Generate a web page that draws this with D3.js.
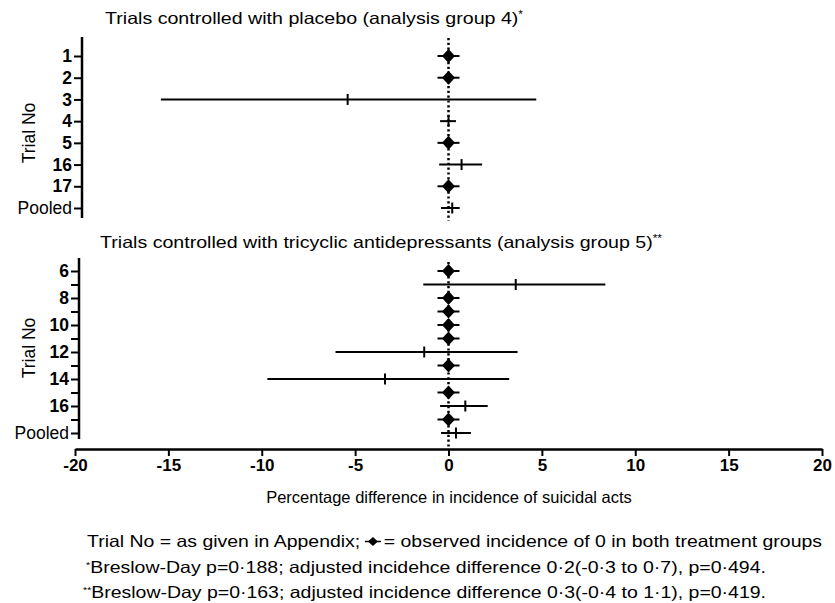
<!DOCTYPE html>
<html>
<head>
<meta charset="utf-8">
<script src="https://cdn.jsdelivr.net/npm/d3@7"></script>
<style>
  body { margin: 0; background: #fff; }
  svg { display: block; font-family: "Liberation Sans", Arial, sans-serif; }
</style>
</head>
<body>
<div id="chart"></div>
<script>
// placebo-controlled trials (analysis group 4)
const placeboTrials = ["1", "2", "3", "4", "5", "16", "17", "Pooled"];
const placeboEst = [0, 0, -5.4, 0, 0, 0.7, 0, 0.2];
const placeboLo = [null, null, -15.4, -0.45, null, -0.5, null, -0.4];
const placeboHi = [null, null, 4.7, 0.4, null, 1.8, null, 0.6];

// tricyclic-controlled trials (analysis group 5)
const tcaTrials = ["6", "7", "8", "9", "10", "11", "12", "13", "14", "15", "16", "17", "Pooled"];
const tcaEst = [0, 3.6, 0, 0, 0, 0, -1.3, 0, -3.4, 0, 0.9, 0, 0.4];
const tcaLo = [null, -1.35, null, null, null, null, -6.05, null, -9.7, null, -0.45, null, -0.4];
const tcaHi = [null, 8.4, null, null, null, null, 3.7, null, 3.25, null, 2.1, null, 1.2];
const tcaLabelled = ["6", "8", "10", "12", "14", "16", "Pooled"];

const xTicks = [-20, -15, -10, -5, 0, 5, 10, 15, 20];

const width = 835, height = 603;
const svg = d3.select("#chart").append("svg")
  .attr("width", width).attr("height", height);

const x = d3.scaleLinear().domain([-20, 20]).range([75, 822]);

const diamond = "M-6.5,0L0,-7L6.5,0L0,7Z";

function panel(trials, est, lo, hi, opts) {
  const rows = trials.map((t, i) => ({ trial: t, est: est[i], lo: lo[i], hi: hi[i] }));
  const y = d3.scalePoint().domain(trials).range(opts.rows);
  const g = svg.append("g");

  // y axis
  const ax = g.append("g")
    .attr("transform", `translate(${opts.axisX},0)`)
    .call(d3.axisLeft(y).tickSize(8).tickPadding(2)
      .tickFormat(d => opts.labelled.includes(d) ? d : ""));
  ax.select(".domain").remove();
  ax.selectAll(".tick line").attr("stroke", "#000").attr("stroke-width", 2);
  ax.selectAll(".tick text")
    .attr("fill", "#000")
    .style("font-size", "17.5px")
    .style("font-weight", d => d === "Pooled" ? "normal" : "bold");
  ax.append("line")
    .attr("y1", opts.axisY[0]).attr("y2", opts.axisY[1])
    .attr("stroke", "#000").attr("stroke-width", 2.5);

  // zero reference line
  g.append("line")
    .attr("x1", x(0)).attr("x2", x(0))
    .attr("y1", opts.dotY[0]).attr("y2", opts.dotY[1])
    .attr("stroke", "#000").attr("stroke-width", 2.5)
    .attr("stroke-dasharray", "2.2,2.6");

  // confidence intervals
  const ci = rows.filter(d => d.lo !== null);
  g.selectAll("line.ci").data(ci).join("line")
    .attr("class", "ci")
    .attr("x1", d => x(d.lo)).attr("x2", d => x(d.hi))
    .attr("y1", d => y(d.trial)).attr("y2", d => y(d.trial))
    .attr("stroke", "#000").attr("stroke-width", 2);
  g.selectAll("line.est").data(ci).join("line")
    .attr("class", "est")
    .attr("x1", d => x(d.est)).attr("x2", d => x(d.est))
    .attr("y1", d => y(d.trial) - 5.5).attr("y2", d => y(d.trial) + 5.5)
    .attr("stroke", "#000").attr("stroke-width", 2);

  // zero incidence in both groups
  const zero = rows.filter(d => d.lo === null);
  const dz = g.selectAll("g.zero").data(zero).join("g")
    .attr("class", "zero")
    .attr("transform", d => `translate(${x(d.est)},${y(d.trial)})`);
  dz.append("line").attr("x1", -11).attr("x2", 11)
    .attr("stroke", "#000").attr("stroke-width", 2);
  dz.append("path").attr("d", diamond).attr("fill", "#000");

  // y label
  svg.append("text")
    .attr("transform", `translate(35,${opts.labelY}) rotate(-90)`)
    .attr("text-anchor", "middle")
    .style("font-size", "17.5px")
    .text("Trial No");

  // panel title
  const t = svg.append("text")
    .attr("x", opts.titleX).attr("y", opts.titleY)
    .attr("textLength", opts.titleLen).attr("lengthAdjust", "spacingAndGlyphs")
    .style("font-size", "16.5px");
  t.append("tspan").text(opts.title);
  t.append("tspan").attr("dy", -6).style("font-size", "10px").text(opts.mark);
}

panel(placeboTrials, placeboEst, placeboLo, placeboHi, {
  rows: [56, 208], axisX: 82, axisY: [37, 218], dotY: [38, 221],
  labelled: placeboTrials, labelY: 133,
  title: "Trials controlled with placebo (analysis group 4)", mark: "*",
  titleX: 105, titleY: 24, titleLen: 418
});

panel(tcaTrials, tcaEst, tcaLo, tcaHi, {
  rows: [271, 433], axisX: 79, axisY: [258, 439], dotY: [262, 449],
  labelled: tcaLabelled, labelY: 348,
  title: "Trials controlled with tricyclic antidepressants (analysis group 5)", mark: "**",
  titleX: 100, titleY: 248, titleLen: 562
});

// x axis
const xa = svg.append("g")
  .attr("transform", "translate(0,449)")
  .call(d3.axisBottom(x).tickValues(xTicks).tickSize(7).tickSizeOuter(0).tickPadding(3));
xa.select(".domain").attr("stroke", "#000").attr("stroke-width", 2.5);
xa.selectAll(".tick line").attr("stroke", "#000").attr("stroke-width", 2);
xa.selectAll(".tick text")
  .attr("fill", "#000")
  .style("font-size", "17px")
  .style("font-weight", "bold")
  .text(d => d);

svg.append("text")
  .attr("x", 449).attr("y", 503)
  .attr("text-anchor", "middle")
  .style("font-size", "16.5px")
  .text("Percentage difference in incidence of suicidal acts");

// footnotes: first line laid out by measuring, so the legend glyph sits in the flow
const fnSize = 16.5;
const partA = svg.append("text")
  .attr("x", 87).attr("y", 547)
  .style("font-size", fnSize + "px")
  .text("Trial No = as given in Appendix;");
const partB = svg.append("text")
  .attr("y", 547)
  .style("font-size", fnSize + "px")
  .text("= observed incidence of 0 in both treatment groups");
const wA = partA.node().getComputedTextLength();
const wB = partB.node().getComputedTextLength();
const glyphW = 20;
const k = (822 - 87) / (wA + glyphW + wB);
partA.attr("textLength", wA * k).attr("lengthAdjust", "spacingAndGlyphs");
const gx = 87 + (wA + 4) * k + 8;
const lg = svg.append("g").attr("transform", `translate(${gx},541.5)`);
lg.append("line").attr("x1", -8).attr("x2", 8).attr("stroke", "#000").attr("stroke-width", 1.5);
lg.append("path").attr("d", "M-5,0L0,-4.5L5,0L0,4.5Z").attr("fill", "#000");
partB.attr("x", 822 - wB * k)
  .attr("textLength", wB * k).attr("lengthAdjust", "spacingAndGlyphs");

const f2 = svg.append("text")
  .attr("x", 86).attr("y", 573)
  .attr("textLength", 680).attr("lengthAdjust", "spacingAndGlyphs")
  .style("font-size", fnSize + "px");
f2.append("tspan").attr("dy", -5).style("font-size", "9px").text("*");
f2.append("tspan").attr("dy", 5).text("Breslow-Day p=0·188; adjusted incidehce difference 0·2(-0·3 to 0·7), p=0·494.");

const f3 = svg.append("text")
  .attr("x", 83).attr("y", 598)
  .attr("textLength", 683).attr("lengthAdjust", "spacingAndGlyphs")
  .style("font-size", fnSize + "px");
f3.append("tspan").attr("dy", -5).style("font-size", "9px").text("**");
f3.append("tspan").attr("dy", 5).text("Breslow-Day p=0·163; adjusted incidence difference 0·3(-0·4 to 1·1), p=0·419.");
</script>
</body>
</html>
